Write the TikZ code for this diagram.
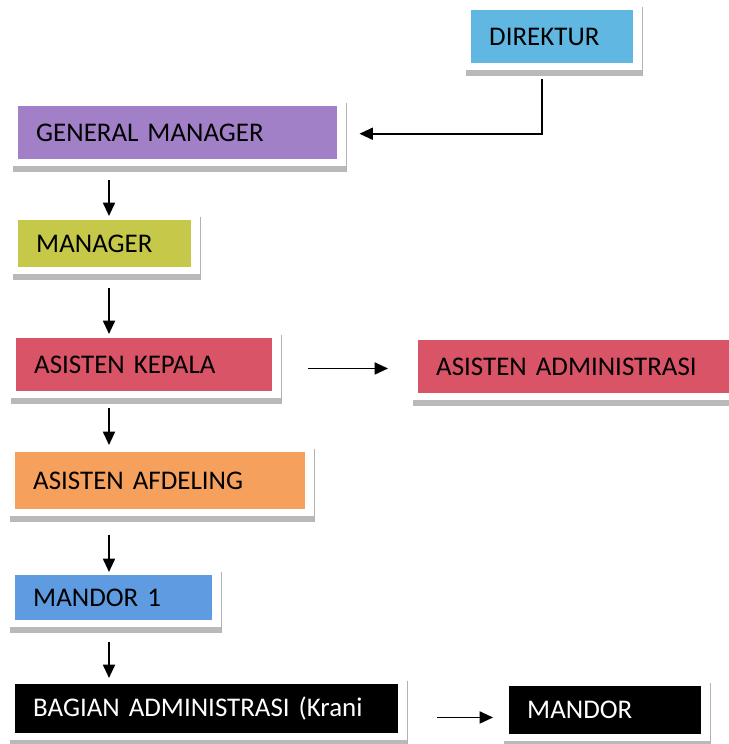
\documentclass[tikz,border=0pt]{standalone}
\usepackage{fontspec}
\setmainfont{Carlito}
\usepackage{tikz}
\usepackage{xcolor}
\usetikzlibrary{calc,arrows.meta}

\definecolor{direkturblue}{RGB}{95,183,226}
\definecolor{gmpurple}{RGB}{162,128,200}
\definecolor{mgrolive}{RGB}{197,200,72}
\definecolor{asistenred}{RGB}{218,84,104}
\definecolor{afdorange}{RGB}{246,160,94}
\definecolor{mandorblue}{RGB}{94,155,224}

% grey frame under and right of a box
\newcommand{\orgframe}[1]{%
  \fill[gray!55] ($(#1.south west)+(-5,7)$) rectangle ($(#1.south east)+(9,13)$);
  \draw[gray!60,line width=0.6pt] ($(#1.north east)+(9,-3)$) -- ($(#1.south east)+(9,13)$);
}

\begin{document}
\begin{tikzpicture}[x=0.03cm,y=-0.03cm]%
  \tikzstyle{box}=[rectangle,anchor=north west,inner xsep=0.54cm,inner ysep=0,align=left,font=\fontsize{23}{26}\selectfont]
  \tikzstyle{arr}=[line width=1.5pt,-{Triangle[length=0.4cm,width=0.36cm]}]
  \useasboundingbox (0,0) rectangle (729,744);
  \node(dir)[box,fill=direkturblue,text width=3.78cm,minimum height=1.59cm] at (471,10) {DIREKTUR};
  \node(gm)[box,fill=gmpurple,text width=8.49cm,minimum height=1.59cm] at (18,106) {GENERAL MANAGER};
  \node(mgr)[box,fill=mgrolive,text width=4.11cm,minimum height=1.41cm] at (18,220) {MANAGER};
  \node(ak)[box,fill=asistenred,text width=6.60cm,minimum height=1.59cm] at (16,338) {ASISTEN KEPALA};
  \node(aa)[box,fill=asistenred,text width=8.25cm,minimum height=1.59cm] at (418,340) {ASISTEN ADMINISTRASI};
  \node(af)[box,fill=afdorange,text width=7.62cm,minimum height=1.71cm] at (15,452) {ASISTEN AFDELING};
  \node(m1)[box,fill=mandorblue,text width=4.83cm,minimum height=1.35cm] at (15,575) {MANDOR 1};
  \node(bag)[box,fill=black,text=white,text width=10.41cm,minimum height=1.47cm] at (15,684) {BAGIAN ADMINISTRASI (Krani};
  \node(mdr)[box,fill=black,text=white,text width=4.68cm,minimum height=1.44cm] at (509,686) {MANDOR};
  \foreach \b in {dir,gm,mgr,ak,aa,af,m1,bag,mdr} {\orgframe{\b}}
  \draw[arr] ($(dir.south west)+(71,16)$) |- ($(gm.east)+(22,1)$);
  \draw[arr] ($(gm.south west)+(91,21)$) -- ($(mgr.north west)+(91,-4)$);
  \draw[arr] ($(mgr.south west)+(91,21)$) -- ($(ak.north west)+(93,-4)$);
  \draw[arr] ($(ak.south east)+(36,-23)$) -- ($(aa.south west)+(-30,-25)$);
  \draw[arr] ($(ak.south west)+(93,17)$) -- ($(af.north west)+(94,-7)$);
  \draw[arr] ($(af.south west)+(94,26)$) -- ($(m1.north west)+(94,-3)$);
  \draw[arr] ($(m1.south west)+(94,22)$) -- ($(bag.north west)+(94,-6)$);
  \draw[arr] ($(bag.south east)+(39,-16)$) -- ($(mdr.south west)+(-16,-17)$);
\end{tikzpicture}
\end{document}
